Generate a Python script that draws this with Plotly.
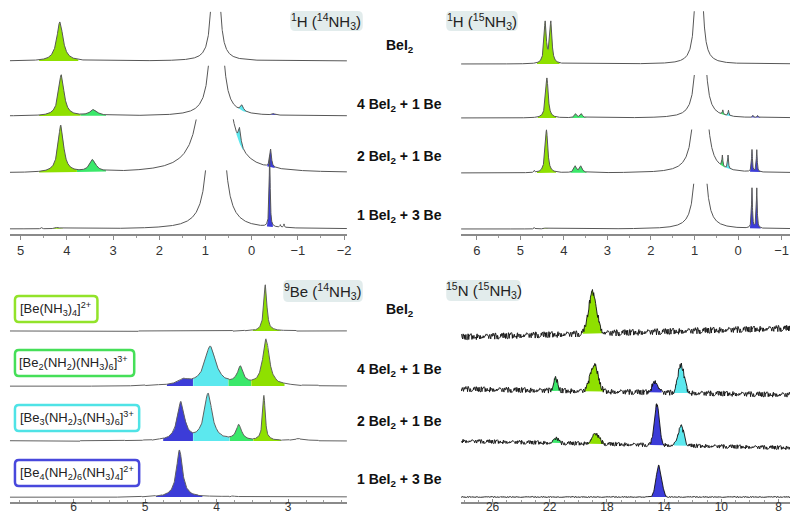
import numpy as np
import plotly.graph_objects as go

W, H = 798, 513

# ---------------- data ----------------
mix_labels = ["BeI<sub>2</sub>", "4 BeI<sub>2</sub> + 1 Be", "2 BeI<sub>2</sub> + 1 Be", "1 BeI<sub>2</sub> + 3 Be"]
species_keys = ["Be1", "Be2", "Be3", "Be4"]
species_labels = [
    "[Be(NH<sub>3</sub>)<sub>4</sub>]<sup>2+</sup>",
    "[Be<sub>2</sub>(NH<sub>2</sub>)(NH<sub>3</sub>)<sub>6</sub>]<sup>3+</sup>",
    "[Be<sub>3</sub>(NH<sub>2</sub>)<sub>3</sub>(NH<sub>3</sub>)<sub>6</sub>]<sup>3+</sup>",
    "[Be<sub>4</sub>(NH<sub>2</sub>)<sub>6</sub>(NH<sub>3</sub>)<sub>4</sub>]<sup>2+</sup>",
]
panel_titles = [
    "<sup>1</sup>H (<sup>14</sup>NH<sub>3</sub>)",
    "<sup>1</sup>H (<sup>15</sup>NH<sub>3</sub>)",
    "<sup>9</sup>Be (<sup>14</sup>NH<sub>3</sub>)",
    "<sup>15</sup>N (<sup>15</sup>NH<sub>3</sub>)",
]

# 1H (14NH3): peaks (ppm, height, half-width); solvent (ppm, tail area)
h14_peaks = [
    [(4.15, 39, 0.08)],
    [(4.12, 41, 0.07), (3.42, 6, 0.09), (0.21, 6, 0.035), (-0.47, 1.5, 0.03)],
    [(4.13, 47, 0.07), (3.44, 12, 0.08), (0.26, 16, 0.03), (-0.41, 18, 0.022)],
    [(4.2, 1.5, 0.05), (4.55, 1.2, 0.01), (-0.39, 71, 0.013), (-0.62, 2.5, 0.01), (-0.70, 3.5, 0.01)],
]
h14_solvent = [(0.78, 0.66), (0.76, 1.6), (0.80, 8.6), (0.77, 3.1)]
h14_clip = [50, 51, 54, 59]
h14_offset = [173, 118, 61, 5]
h14_fills = [
    [("Be1", 4.6, 3.75)],
    [("Be1", 4.6, 3.7), ("Be2", 3.7, 3.15), ("Be3", 0.33, 0.12), ("Be4", -0.40, -0.55)],
    [("Be1", 4.6, 3.78), ("Be2", 3.78, 3.15), ("Be3", 0.33, 0.18), ("Be4", -0.33, -0.5)],
    [("Be1", 4.32, 4.08), ("Be4", -0.33, -0.46)],
]

# 1H (15NH3)
h15_peaks = [
    [(4.43, 41, 0.03), (4.30, 41, 0.03)],
    [(4.39, 40, 0.035), (3.73, 4, 0.03), (3.60, 4, 0.03), (0.35, 4.5, 0.012), (0.22, 5.5, 0.012),
     (-0.34, 2, 0.012), (-0.45, 2, 0.012)],
    [(4.40, 43, 0.035), (4.68, 2, 0.01), (3.74, 6.5, 0.035), (3.61, 6.5, 0.035), (0.36, 11, 0.012),
     (0.23, 13.5, 0.012), (-0.32, 22, 0.012), (-0.43, 22, 0.012)],
    [(4.68, 1.5, 0.01), (4.43, 1.0, 0.03), (-0.32, 40, 0.012), (-0.43, 40, 0.012)],
]
h15_solvent = [(0.90, 0.64), (0.86, 0.93), (0.865, 1.76), (0.865, 1.1)]
h15_clip = [53, 44, 44, 46]
h15_offset = [170, 116, 61, 5]
h15_fills = [
    [("Be1", 4.62, 4.1)],
    [("Be1", 4.6, 4.18), ("Be2", 3.85, 3.48), ("Be2", 0.42, 0.29), ("Be3", 0.29, 0.15), ("Be4", -0.27, -0.52)],
    [("Be1", 4.62, 4.18), ("Be2", 3.85, 3.48), ("Be2", 0.42, 0.30), ("Be3", 0.30, 0.15), ("Be4", -0.27, -0.52)],
    [("Be1", 4.5, 4.36), ("Be4", -0.27, -0.52)],
]

# 9Be (14NH3)
be_peaks = [
    [(3.32, 46, 0.025)],
    [(4.46, 5, 0.1), (4.09, 39, 0.095), (3.67, 17, 0.05), (3.31, 46, 0.055)],
    [(4.50, 38, 0.06), (4.12, 47, 0.065), (3.69, 15, 0.045), (3.34, 45, 0.022), (2.85, 2, 0.08)],
    [(4.52, 47, 0.05), (3.78, 1, 0.02)],
]
be_offset = [173, 118, 63, 7]
be_fills = [
    [("Be1", 3.5, 3.1)],
    [("Be4", 4.7, 4.33), ("Be3", 4.33, 3.84), ("Be2", 3.84, 3.52), ("Be1", 3.52, 3.05)],
    [("Be4", 4.75, 4.33), ("Be3", 4.33, 3.82), ("Be2", 3.82, 3.49), ("Be1", 3.49, 3.1)],
    [("Be4", 4.85, 4.2)],
]

# 15N (15NH3): gaussian peaks (ppm, height, sigma); baseline offset at left / right edge
n_peaks = [
    [(19.0, 41, 0.28)],
    [(21.6, 12, 0.15), (18.9, 27, 0.27), (14.63, 11, 0.2), (12.82, 28, 0.22)],
    [(21.54, 5, 0.15), (18.79, 10, 0.25), (14.51, 40, 0.18), (12.82, 19, 0.2)],
    [(14.37, 32, 0.19)],
]
n_offset = [(167, 176), (115, 109), (63, 56), (7, 7)]
n_noise_amp = [3.4, 2.9, 2.2, 0.5]
n_fills = [
    [("Be1", 19.7, 18.3)],
    [("Be2", 22.0, 21.2), ("Be1", 19.6, 18.2), ("Be4", 15.1, 14.15), ("Be3", 13.4, 12.25)],
    [("Be2", 21.9, 21.2), ("Be1", 19.35, 18.25), ("Be4", 15.0, 14.0), ("Be3", 13.35, 12.3)],
    [("Be4", 14.9, 13.85)],
]

# hand-read baseline jitter (normalised)
noise = [0.3, -0.6, 0.9, -0.2, -0.8, 0.5, 0.1, -0.4, 0.7, -0.9, 0.2, 0.6, -0.3, -0.7, 0.8, -0.1,
         0.4, -0.5, 0.9, -0.6, 0.0, 0.5, -0.8, 0.3, -0.2, 0.7, -0.4, 0.1, -0.9, 0.6, 0.2, -0.3,
         0.8, -0.7, 0.4, -0.1, -0.5, 0.9, -0.2, 0.3, -0.8, 0.6, -0.4, 0.1, 0.7, -0.6, 0.2, -0.9,
         0.5, -0.3, 0.8, 0.0, -0.7, 0.4, -0.2, 0.6, -0.5, 0.9, -0.1, 0.3, -0.8, 0.2, 0.7, -0.4,
         -0.6, 0.5, -0.2, 0.8, -0.9, 0.1, 0.4, -0.3, 0.6, -0.7, 0.9, -0.5, 0.2, -0.1, 0.7, -0.8,
         0.3, -0.4, 0.5, 0.0, -0.6, 0.8, -0.2, 0.4, -0.9, 0.6, 0.1, -0.5, 0.7, -0.3, 0.2, -0.8,
         0.9, -0.4, 0.3, -0.1, 0.5]

# ---------------- style ----------------
COL = {"Be1": "#8fe000", "Be2": "#3ae86a", "Be3": "#5ce8ee", "Be4": "#3c3cd8"}
BORDER = {"Be1": "#92e32a", "Be2": "#45df58", "Be3": "#4fe3e6", "Be4": "#4848dc"}
FONT = "Liberation Sans, Arial, sans-serif"

# panel pixel boxes: (x0, x1, y_top, y_axis_line, y_of_zero)
PANELS = [(2, 341, 0, 226, 226), (456, 796, 0, 226, 226), (2, 341, 250, 494, 496), (456, 796, 250, 494, 496)]
XRANGES = [[5.23, -2.06], [6.36, -1.40], [6.89, 2.18], [28.2, 4.57]]

fig = go.Figure()


def lor(x, c, h, w):
    return h * w ** 2 / ((x - c) ** 2 + w ** 2)


def gau(x, c, h, s):
    return h * np.exp(-0.5 * ((x - c) / s) ** 2)


def add_fill(ax, x, top, floor, lo_hi, color):
    a, b = max(lo_hi), min(lo_hi)
    m = (x <= a) & (x >= b)
    xs = x[m]
    if len(xs) < 2:
        return
    px = np.concatenate([xs, xs[::-1]])
    py = np.concatenate([top[m], floor[m][::-1]])
    fig.add_trace(go.Scatter(x=px, y=py, fill="toself", fillcolor=color, mode="lines",
                             line=dict(width=0), hoverinfo="skip", showlegend=False,
                             xaxis="x" + ax, yaxis="y" + ax))


def add_line(ax, x, y, color, width):
    fig.add_trace(go.Scatter(x=x, y=y, mode="lines", line=dict(color=color, width=width),
                             hoverinfo="skip", showlegend=False, xaxis="x" + ax, yaxis="y" + ax))


# 1H panels
for ax, peaks, solv, clip, offs, fills, grid in [
    ("", h14_peaks, h14_solvent, h14_clip, h14_offset, h14_fills, np.arange(-2.3, 5.5, 0.002)),
    ("2", h15_peaks, h15_solvent, h15_clip, h15_offset, h15_fills, np.arange(-1.6, 6.6, 0.002)),
]:
    for i in range(4):
        c, area = solv[i]
        ws = 0.03
        floor = offs[i] + lor(grid, c, area / ws ** 2, ws)
        tot = floor.copy()
        for (p, h, w) in peaks[i]:
            tot = tot + lor(grid, p, h, w)
        cut = (tot > offs[i] + clip[i]) & (np.abs(grid - c) < 0.5)
        capped = np.where(cut, offs[i] + clip[i], tot)
        for (sp, a, b) in fills[i]:
            add_fill(ax, grid, capped, np.minimum(floor, capped), (a, b), COL[sp])
        line = np.where(cut, np.nan, tot)
        add_line(ax, grid, line, "#575757", 1.0)

# 9Be panel
grid = np.arange(2.0, 7.0, 0.004)
for i in range(4):
    base = np.full_like(grid, float(be_offset[i]))
    idx = (np.arange(len(grid)) // 6 + 13 * i) % len(noise)
    base = base + 0.35 * np.array(noise)[idx]
    tot = base.copy()
    for (p, h, w) in be_peaks[i]:
        tot = tot + lor(grid, p, h, w)
    for (sp, a, b) in be_fills[i]:
        add_fill("3", grid, tot, np.full_like(grid, float(be_offset[i])), (a, b), COL[sp])
    add_line("3", grid, tot, "#606060", 1.0)

# 15N panel
grid = np.arange(4.4, 28.4, 0.028)
xl, xr = XRANGES[3]
for i in range(4):
    oL, oR = n_offset[i]
    base = oL + (oR - oL) * (xl - grid) / (xl - xr)
    idx = (np.arange(len(grid)) * 7 + 29 * i) % len(noise)
    tot = base + n_noise_amp[i] * np.array(noise)[idx]
    for (p, h, s) in n_peaks[i]:
        tot = tot + gau(grid, p, h, s)
    for (sp, a, b) in n_fills[i]:
        add_fill("4", grid, tot, base, (a, b), COL[sp])
    add_line("4", grid, tot, "#111111", 0.9)

# ---------------- axes ----------------
TICKS = [
    dict(tickvals=[5, 4, 3, 2, 1, 0, -1, -2], ticktext=["5", "4", "3", "2", "1", "0", "−1", "−2"], minor=0.5),
    dict(tickvals=[6, 5, 4, 3, 2, 1, 0, -1], ticktext=["6", "5", "4", "3", "2", "1", "0", "−1"], minor=0.5),
    dict(tickvals=[6, 5, 4, 3], ticktext=["6", "5", "4", "3"], minor=0.25),
    dict(tickvals=[26, 22, 18, 14, 10, 6], ticktext=["26", "22", "18", "14", "10", "8"], minor=1),
]
layout = {}
for k in range(4):
    x0, x1, yt, ya, y0 = PANELS[k]
    sfx = "" if k == 0 else str(k + 1)
    top = k < 2
    tk = "outside" if top else "inside"
    layout["xaxis" + sfx] = dict(
        domain=[x0 / W, x1 / W], range=XRANGES[k], anchor="y" + sfx,
        showline=True, linecolor="#8a8a8a", linewidth=1.5, showgrid=False, zeroline=False,
        ticks=tk, ticklen=4 if top else 3, tickcolor="#8a8a8a", tickwidth=1,
        ticklabelstandoff=0 if top else -7,
        tickvals=TICKS[k]["tickvals"], ticktext=TICKS[k]["ticktext"],
        tickfont=dict(family=FONT, size=13 if top else 12, color="#333333"),
        minor=dict(dtick=TICKS[k]["minor"], ticks=tk, ticklen=2,
                   tickcolor="#9a9a9a", showgrid=False),
        fixedrange=True,
    )
    layout["yaxis" + sfx] = dict(
        domain=[1 - ya / H, 1 - yt / H], range=[y0 - ya, y0 - yt], anchor="x" + sfx,
        visible=False, fixedrange=True,
    )


def rrect(x0, y0, x1, y1, r):
    def X(v):
        return v / W

    def Y(v):
        return 1 - v / H
    return (f"M {X(x0 + r)},{Y(y0)} L {X(x1 - r)},{Y(y0)} Q {X(x1)},{Y(y0)} {X(x1)},{Y(y0 + r)} "
            f"L {X(x1)},{Y(y1 - r)} Q {X(x1)},{Y(y1)} {X(x1 - r)},{Y(y1)} "
            f"L {X(x0 + r)},{Y(y1)} Q {X(x0)},{Y(y1)} {X(x0)},{Y(y1 - r)} "
            f"L {X(x0)},{Y(y0 + r)} Q {X(x0)},{Y(y0)} {X(x0 + r)},{Y(y0)} Z")


shapes = []
annotations = []

# panel title boxes
TITLE_BOXES = [(284, 3, 357, 23), (441, 3, 513, 23), (277, 272, 357, 294), (441, 272, 516, 293)]
for t, (a, b, c, d) in zip(panel_titles, TITLE_BOXES):
    shapes.append(dict(type="path", path=rrect(a, b, c, d, 5), xref="paper", yref="paper",
                       fillcolor="#e2ecec", line=dict(width=0), layer="below"))
    annotations.append(dict(text=t, x=(a + c) / 2 / W, y=1 - (b + d) / 2 / H, xref="paper", yref="paper",
                            xanchor="center", yanchor="middle", showarrow=False,
                            font=dict(family=FONT, size=15, color="#222222")))

# species legend boxes (box, text centre)
LEG_BOXES = [(7, 288, 90, 314), (7, 342, 127, 368), (7, 397, 132, 423), (7, 452, 132, 478)]
LEG_TEXT_X = [48, 66, 69, 69]
for key, lab, (a, b, c, d), tx in zip(species_keys, species_labels, LEG_BOXES, LEG_TEXT_X):
    shapes.append(dict(type="path", path=rrect(a, b, c, d, 4), xref="paper", yref="paper",
                       fillcolor="white", line=dict(color=BORDER[key], width=2.5)))
    annotations.append(dict(text=lab, x=tx / W, y=1 - (b + d) / 2 / H, xref="paper", yref="paper",
                            xanchor="center", yanchor="middle", showarrow=False,
                            font=dict(family=FONT, size=13, color="#222222")))

# mixture labels
for ys in ([38, 97, 149, 208], [302, 362, 414, 472]):
    for lab, yy in zip(mix_labels, ys):
        annotations.append(dict(text="<b>" + lab + "</b>", x=394 / W, y=1 - yy / H, xref="paper", yref="paper",
                                xanchor="center", yanchor="middle", showarrow=False,
                                font=dict(family=FONT, size=14, color="#111111")))

fig.update_layout(
    width=W, height=H, margin=dict(l=0, r=0, t=0, b=0),
    paper_bgcolor="white", plot_bgcolor="rgba(0,0,0,0)",
    showlegend=False, shapes=shapes, annotations=annotations, **layout,
)

fig.write_html("out.html")
